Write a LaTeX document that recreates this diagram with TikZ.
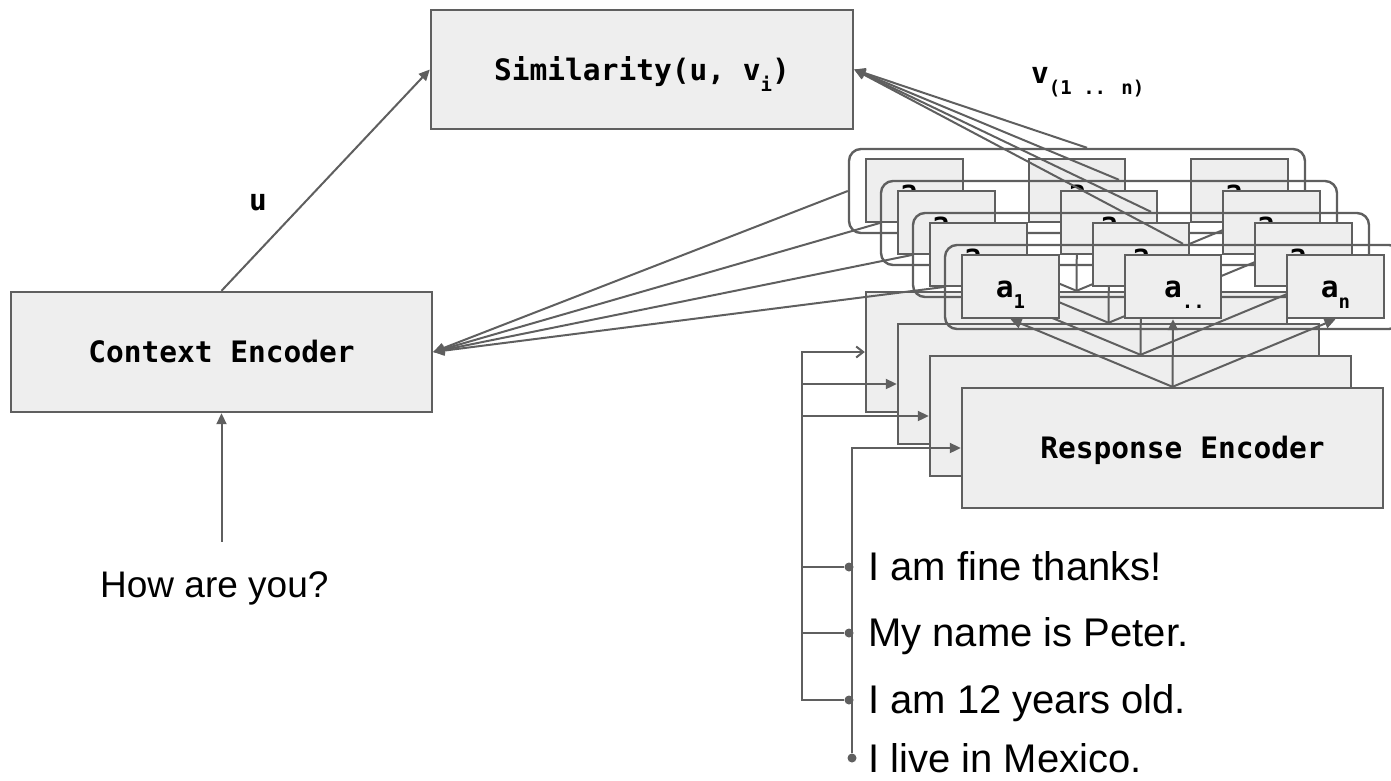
\documentclass[tikz,border=0pt]{standalone}
\usepackage{fontspec}
\setmainfont{Liberation Sans}
\newfontfamily\codefont{DejaVu Sans Mono}
\usetikzlibrary{arrows.meta}
\definecolor{edge}{RGB}{95,95,95}
\definecolor{boxfill}{RGB}{238,238,238}
\newcommand\lbl{\codefont\bfseries\fontsize{29.5}{30}\selectfont}
\newcommand\subs[1]{\raisebox{-11pt}{\fontsize{19}{19}\selectfont #1}}

\begin{document}
\begin{tikzpicture}[x=1pt,y=-1pt,
  box/.style={draw=edge, fill=boxfill, line width=2.4pt, inner sep=0pt, font=\lbl,
              text height=21pt, text depth=0pt},
  cell/.style={box, minimum width=96.5pt, minimum height=63pt},
  bigbox/.style={box, minimum width=421pt, minimum height=120pt},
  group/.style={draw=edge, line width=2.4pt, rounded corners=12pt,
                minimum width=456pt, minimum height=84pt, inner sep=0pt},
  link/.style={draw=edge, line width=2pt},
  arr/.style={link, -{Triangle[length=11pt,width=10pt]}},
  barb/.style={link, -{Straight Barb[length=7pt,width=11pt]}},
  say/.style={font=\fontsize{40}{40}\selectfont, anchor=base west, inner sep=0pt,
              text depth=0pt},
  dot/.style={circle, fill=edge, inner sep=0pt, minimum size=9pt}]

\useasboundingbox (0,0) rectangle (1391,780);

% encoders and similarity
\node[bigbox] (ctx) at (221.5,352) {Context Encoder};
\node[box, minimum width=422pt, minimum height=119pt] (sim) at (642,69.5)
  {Similarity(u, v\subs{i})};

\node[font=\lbl] (ulabel) at (258,203) {u};
\node[font=\lbl, anchor=base west, inner sep=0pt] (vlabel) at (1031,83) {v\subs{(1 .. n)}};

\draw[arr] (ctx.north) -- (sim.west);

% query
\node[font=\fontsize{37}{37}\selectfont, anchor=base west, inner sep=0pt] (q) at (100,597) {How are you?};
\draw[arr, shorten <=29pt] (q.north -| ctx.south) -- (ctx.south);

% stacked response encoders, back to front
\foreach \k in {0,1,2,3}{
  \pgfmathsetmacro\dd{32*\k}
  \node[group] (g\k) at (1077+\dd,191+\dd) {};
  \node[cell] (a\k) at (914.5+\dd,190.5+\dd) {a\subs{1}};
  \node[cell] (m\k) at (1077+\dd,190.5+\dd) {\phantom{\subs{..}}a\subs{..}};
  \node[cell] (n\k) at (1239.5+\dd,190.5+\dd) {a\subs{n}};
  \node[bigbox] (r\k) at (1076.5+\dd,352+\dd)
    {\ifnum\k=3 \hspace*{20pt}Response Encoder\fi};
  \draw[arr] (r\k.north) -- (a\k.south);
  \draw[arr] (r\k.north) -- (m\k.south);
  \draw[arr] (r\k.north) -- (n\k.south);
}

% encoded groups to context encoder and similarity
\foreach \k in {0,1,2,3}{
  \draw[arr] (g\k.west) -- (ctx.east);
  \draw[arr] ([xshift=10pt]g\k.north) -- (sim.east);
}

% candidate responses
\node[say] (t1) at (868,580) {I am fine thanks!};
\node[say] (t2) at (868,646) {My name is Peter.};
\node[say] (t3) at (868,713) {I am 12 years old.};
\node[say] (t4) at (868,772) {I live in Mexico.};

\node[dot] (d1) at (849,567) {};
\node[dot] (d2) at (849,633) {};
\node[dot] (d3) at (849,700) {};
\node[dot] (d4) at (852,758) {};

\coordinate (bus) at (802,352);
\draw[barb] (d1) -| (bus |- r0.west) -- (r0.west);
\draw[arr] (d2) -| (bus |- r1.west) -- (r1.west);
\draw[arr] (d3) -| (bus |- r2.west) -- (r2.west);
\draw[arr] (d4) -- (d4 |- r3.west) -- (r3.west);
\end{tikzpicture}
\end{document}
